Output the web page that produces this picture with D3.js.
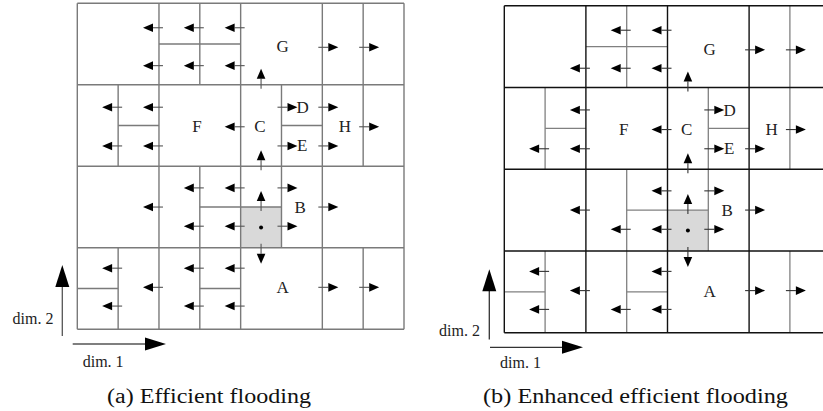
<!DOCTYPE html>
<html>
<head>
<meta charset="utf-8">
<script src="https://cdn.jsdelivr.net/npm/d3@7"></script>
<style>
  body { margin: 0; background: #fff; }
</style>
</head>
<body>
<svg id="fig" width="823" height="411"></svg>
<script>
// grid units: 8 x 8, major cells every 2 units
const majorTicks = [0, 2, 4, 6, 8];

// minor split lines [u1, v1, u2, v2] (same for both panels)
const minorSegs = [
  [3, 0, 3, 2], [2, 1, 4, 1], [7, 0, 7, 2],
  [1, 2, 1, 4], [1, 3, 2, 3], [5, 2, 5, 4], [5, 3, 6, 3], [7, 2, 7, 4],
  [3, 4, 3, 6], [3, 5, 4, 5], [5, 4, 5, 6], [4, 5, 5, 5],
  [1, 6, 1, 8], [0, 7, 1, 7], [3, 6, 3, 8], [3, 7, 4, 7], [7, 6, 7, 8]
];

// the start cell (grey) and its dot
const startCell = [4, 5, 5, 6];

// zone labels [name, u, v]
const zoneLabels = [
  ["G", 5.03, 1.06], ["F", 2.93, 3.03], ["C", 4.47, 3.03], ["D", 5.52, 2.56],
  ["E", 5.51, 3.5], ["H", 6.55, 3.03], ["B", 5.46, 5.0], ["A", 5.03, 6.98]
];

// flooding arrows [u, v, direction] — (a) efficient flooding
const arrowsA = [
  [2, 0.6, "L"], [2, 1.53, "L"], [3, 0.6, "L"], [3, 1.53, "L"], [4, 0.6, "L"], [4, 1.53, "L"],
  [4.5, 2, "U"], [6, 1.08, "R"], [7, 1.08, "R"],
  [1, 2.55, "L"], [1, 3.5, "L"], [2, 2.55, "L"], [2, 3.5, "L"], [4, 3.03, "L"],
  [5, 2.55, "R"], [5, 3.5, "R"], [6, 2.55, "R"], [6, 3.5, "R"], [7, 3.03, "R"], [4.5, 4, "U"],
  [2, 5, "L"], [3, 4.53, "L"], [3, 5.47, "L"], [4, 4.53, "L"], [4, 5.47, "L"],
  [5, 4.53, "R"], [5, 5.47, "R"], [4.5, 5, "U"], [4.5, 6, "D"], [6, 5, "R"],
  [1, 6.5, "L"], [1, 7.43, "L"], [2, 6.97, "L"], [3, 6.5, "L"], [3, 7.43, "L"],
  [4, 6.5, "L"], [4, 7.43, "L"], [6, 6.97, "R"], [7, 6.97, "R"]
];

// (b) enhanced efficient flooding
const arrowsB = [
  [2, 1.53, "L"], [3, 0.6, "L"], [3, 1.53, "L"], [4, 0.6, "L"], [4, 1.53, "L"],
  [4.5, 2, "U"], [6, 1.08, "R"], [7, 1.08, "R"],
  [1, 3.5, "L"], [2, 2.55, "L"], [2, 3.5, "L"], [4, 3.03, "L"],
  [5, 2.55, "R"], [5, 3.5, "R"], [6, 3.5, "R"], [7, 3.03, "R"], [4.5, 4, "U"],
  [2, 5, "L"], [3, 5.47, "L"], [4, 4.53, "L"], [4, 5.47, "L"],
  [5, 4.53, "R"], [5, 5.47, "R"], [4.5, 5, "U"], [4.5, 6, "D"], [6, 5, "R"],
  [1, 6.5, "L"], [1, 7.43, "L"], [2, 6.97, "L"], [3, 7.43, "L"],
  [4, 6.5, "L"], [4, 7.43, "L"], [6, 6.97, "R"], [7, 6.97, "R"]
];

const dimLabels = ["dim. 1", "dim. 2"];
const captions = ["(a) Efficient flooding", "(b) Enhanced efficient flooding"];

const serif = "'Liberation Serif', 'Times New Roman', 'DejaVu Serif', serif";
const svg = d3.select("#fig");

const dirs = { L: [-1, 0], R: [1, 0], U: [0, -1], D: [0, 1] };

function drawArrow(g, px, py, dir, shaft) {
  const [dx, dy] = dirs[dir];
  const tail = [px - 4 * dx, py - 4 * dy];
  const tip = [px + 16 * dx, py + 16 * dy];
  const base = [tip[0] - 10 * dx, tip[1] - 10 * dy];
  g.append("line")
    .attr("x1", tail[0]).attr("y1", tail[1])
    .attr("x2", base[0]).attr("y2", base[1])
    .attr("stroke", shaft).attr("stroke-width", 1.1);
  g.append("polygon")
    .attr("points", [tip, [base[0] - 4.3 * dy, base[1] + 4.3 * dx], [base[0] + 4.3 * dy, base[1] - 4.3 * dx]].map(p => p.join(",")).join(" "))
    .attr("fill", "#000");
}

function drawPanel(opt, arrows) {
  const x = d3.scaleLinear().domain([0, 8]).range(opt.xr);
  const y = d3.scaleLinear().domain([0, 8]).range(opt.yr);
  const g = svg.append("g").attr("font-family", serif);

  // start cell
  g.append("rect")
    .attr("x", x(startCell[0])).attr("y", y(startCell[1]))
    .attr("width", x(startCell[2]) - x(startCell[0]))
    .attr("height", y(startCell[3]) - y(startCell[1]))
    .attr("fill", "#d9d9d9");

  // minor lines
  g.selectAll(".minor").data(minorSegs).enter().append("line")
    .attr("x1", d => x(d[0])).attr("y1", d => y(d[1]))
    .attr("x2", d => x(d[2])).attr("y2", d => y(d[3]))
    .attr("stroke", opt.minor).attr("stroke-width", opt.minorW);

  // major grid
  g.selectAll(".vmaj").data(majorTicks).enter().append("line")
    .attr("x1", d => x(d)).attr("x2", d => x(d))
    .attr("y1", y(0)).attr("y2", y(8))
    .attr("stroke", opt.major).attr("stroke-width", opt.majorW);
  g.selectAll(".hmaj").data(majorTicks).enter().append("line")
    .attr("y1", d => y(d)).attr("y2", d => y(d))
    .attr("x1", x(0)).attr("x2", x(8))
    .attr("stroke", opt.major).attr("stroke-width", opt.majorW);

  // dot in the start cell
  g.append("circle")
    .attr("cx", x((startCell[0] + startCell[2]) / 2))
    .attr("cy", y((startCell[1] + startCell[3]) / 2))
    .attr("r", 2).attr("fill", "#000");

  arrows.forEach(a => drawArrow(g, x(a[0]), y(a[1]), a[2], opt.shaft));

  g.selectAll(".zl").data(zoneLabels).enter().append("text")
    .attr("x", d => x(d[1])).attr("y", d => y(d[2]))
    .attr("text-anchor", "middle").attr("dominant-baseline", "central")
    .attr("font-family", serif)
    .attr("font-size", 17).attr("fill", opt.text)
    .text(d => d[0]);

  // dimension arrows
  const d = opt.dim;
  g.append("line").attr("x1", d.vx).attr("x2", d.vx).attr("y1", d.vy0).attr("y2", d.vy1 + 20)
    .attr("stroke", opt.shaft).attr("stroke-width", 1.3);
  g.append("polygon")
    .attr("points", `${d.vx},${d.vy1} ${d.vx - 7},${d.vy1 + 22} ${d.vx + 7},${d.vy1 + 22}`)
    .attr("fill", "#000");
  g.append("line").attr("y1", d.hy).attr("y2", d.hy).attr("x1", d.hx0).attr("x2", d.hx1 - 20)
    .attr("stroke", opt.shaft).attr("stroke-width", 1.3);
  g.append("polygon")
    .attr("points", `${d.hx1},${d.hy} ${d.hx1 - 21},${d.hy - 6.5} ${d.hx1 - 21},${d.hy + 6.5}`)
    .attr("fill", "#000");
  g.append("text").attr("x", d.t2x).attr("y", d.t2y).attr("text-anchor", "end")
    .attr("font-family", serif)
    .attr("font-size", 16).attr("fill", opt.text).text(dimLabels[1]);
  g.append("text").attr("x", d.t1x).attr("y", d.t1y)
    .attr("font-family", serif)
    .attr("font-size", 16).attr("fill", opt.text).text(dimLabels[0]);

  g.append("text").attr("x", opt.cap[0]).attr("y", opt.cap[2])
    .attr("font-family", serif)
    .attr("font-size", 20).attr("fill", "#111")
    .attr("textLength", opt.cap[1] - opt.cap[0]).attr("lengthAdjust", "spacingAndGlyphs")
    .text(opt.caption);
}

drawPanel({
  xr: [77.3, 404], yr: [3.3, 329.3],
  major: "#7a7a7a", majorW: 1.4, minor: "#7a7a7a", minorW: 1.4,
  shaft: "#555", text: "#222",
  dim: { vx: 62.3, vy0: 336, vy1: 265, hy: 344, hx0: 72.7, hx1: 166, t2x: 53.5, t2y: 324, t1x: 82.7, t1y: 366.5 },
  cap: [107, 311, 403], caption: captions[0]
}, arrowsA);

drawPanel({
  xr: [504.3, 830.7], yr: [5.7, 332.7],
  major: "#111", majorW: 1.4, minor: "#808080", minorW: 1.3,
  shaft: "#333", text: "#222",
  dim: { vx: 489.3, vy0: 339.5, vy1: 269.3, hy: 347.3, hx0: 490, hx1: 583, t2x: 480, t2y: 336, t1x: 500, t1y: 368 },
  cap: [483, 788, 403], caption: captions[1]
}, arrowsB);
</script>
</body>
</html>
